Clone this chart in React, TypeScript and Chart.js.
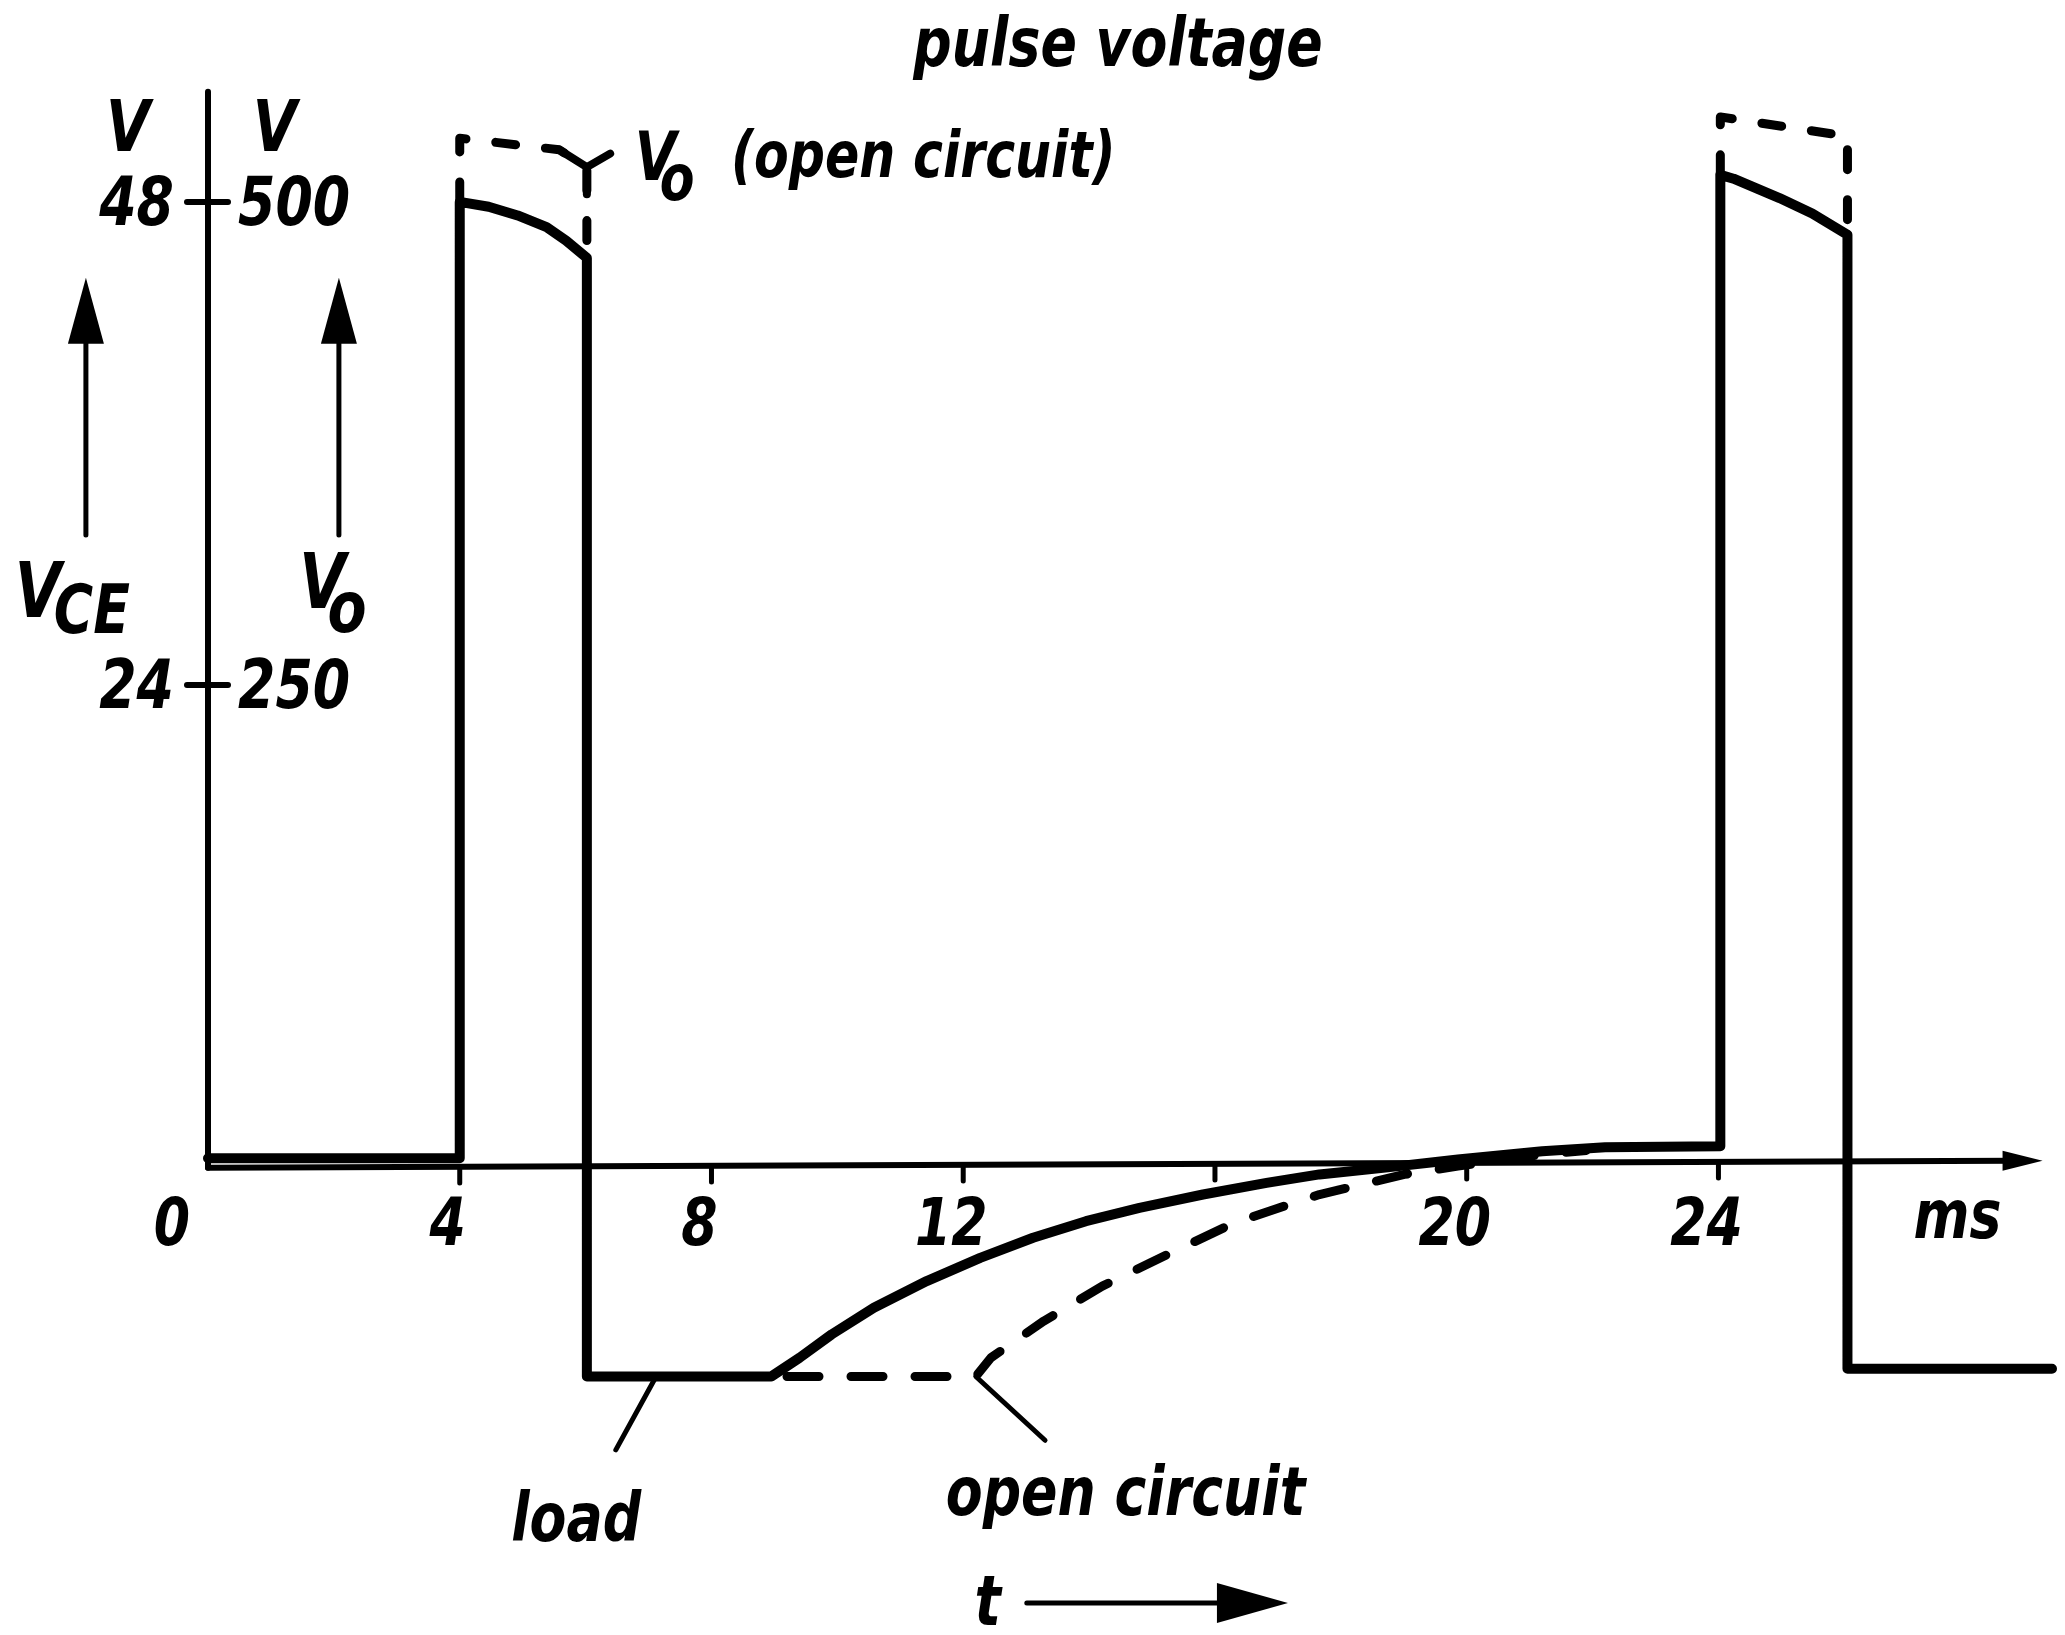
import React, { useEffect, useRef } from "react";
import { Chart, registerables } from "chart.js";

Chart.register(...registerables);

// ---------------- data ----------------
// time in ms, voltage V_o in volts
const loadTime = [0, 4, 4, 4.46, 4.92, 5.38, 5.69, 6.02, 6.02, 8.95, 9.4, 9.91, 10.58, 11.42, 12.27, 13.11, 13.95, 14.8, 15.81, 16.82, 17.66, 18.67, 19.86, 21.2, 22.2, 24.03, 24.03, 24.24, 24.97, 25.49, 26.05, 26.05, 29.3];
const loadVolts = [5, 5, 500, 497.5, 493, 487, 480, 471, -108, -108, -98.3, -86.2, -72.4, -58.6, -46.6, -36.2, -27.6, -20.7, -13.8, -7.8, -3.4, 0, 4.3, 8.6, 10.7, 11.2, 514, 512, 502, 494, 483, -104, -104];

const openPulse1Time = [4, 4, 5.58, 6.02, 6.02];
const openPulse1Volts = [500, 533, 527, 518, 471];

const openTailTime = [9.2, 12.2, 12.44, 13.28, 14.21, 15.3, 16.31, 17.66, 19.01, 19.86, 21.2, 21.9];
const openTailVolts = [-108, -108, -98.3, -79.3, -61.2, -44.0, -28.4, -13.8, -3.4, 0.9, 6.9, 9];

const openPulse2Time = [24.03, 24.03, 26.05, 26.05];
const openPulse2Volts = [514, 544, 534, 483];

const xTickValues = [4, 8, 12, 16, 20, 24];
const xTickLabelValues = [0, 4, 8, 12, 20, 24];
const xTickLabels = ["0", "4", "8", "12", "20", "24"];
const xUnitLabel = "ms";

const yTickValues = [250, 500];
const yTickLabelsVce = ["24", "48"];
const yTickLabelsVo = ["250", "500"];

const X_MIN = 0;
const X_MAX = 29.3;
const Y_MIN = -130;
const Y_MAX = 560;

// ---------------- style / layout ----------------
const INK = "#000000";
const FONT = '"DejaVu Sans"';
const H_SCALE = 0.79;
const X_ARROW_TIP = 29.15;
const Y_AXIS_TOP = 557;
const AXIS_TILT = 7;

const pts = (t: number[], v: number[]) => t.map((x, i) => ({ x, y: v[i] }));

function drawText(
  ctx: CanvasRenderingContext2D,
  text: string,
  x: number,
  y: number,
  size: number,
  align: CanvasTextAlign = "left",
  hs: number = H_SCALE
) {
  ctx.save();
  ctx.font = `italic bold ${size}px ${FONT}`;
  ctx.textAlign = align;
  ctx.textBaseline = "alphabetic";
  ctx.fillStyle = INK;
  ctx.translate(x, y);
  ctx.scale(hs, 1);
  ctx.fillText(text, 0, 0);
  ctx.restore();
}

function seg(ctx: CanvasRenderingContext2D, x1: number, y1: number, x2: number, y2: number) {
  ctx.beginPath();
  ctx.moveTo(x1, y1);
  ctx.lineTo(x2, y2);
  ctx.stroke();
}

function arrowHead(
  ctx: CanvasRenderingContext2D,
  tipX: number,
  tipY: number,
  dirX: number,
  dirY: number,
  len: number,
  half: number
) {
  const bx = tipX - dirX * len;
  const by = tipY - dirY * len;
  const nx = -dirY;
  const ny = dirX;
  ctx.beginPath();
  ctx.moveTo(tipX, tipY);
  ctx.lineTo(bx + nx * half, by + ny * half);
  ctx.lineTo(bx - nx * half, by - ny * half);
  ctx.closePath();
  ctx.fill();
}

const sketchPlugin = {
  id: "sketchAxes",
  beforeDatasetsDraw(chart: any) {
    const { ctx } = chart;
    const xs = chart.scales.x;
    const ys = chart.scales.y;
    const X = (v: number) => xs.getPixelForValue(v);
    const Y = (v: number) => ys.getPixelForValue(v);
    const axisY = (t: number) => Y(0) - AXIS_TILT * (t / X_ARROW_TIP);

    ctx.save();
    ctx.strokeStyle = INK;
    ctx.fillStyle = INK;
    ctx.lineCap = "round";

    // vertical axis
    ctx.lineWidth = 6;
    seg(ctx, X(0), Y(Y_AXIS_TOP), X(0), Y(0));
    // y ticks crossing the axis
    yTickValues.forEach((v) => seg(ctx, X(0) - 21, Y(v), X(0) + 20, Y(v)));

    // horizontal time axis with arrow
    ctx.lineWidth = 6;
    seg(ctx, X(0), axisY(0), X(X_ARROW_TIP) - 30, axisY(X_ARROW_TIP));
    arrowHead(ctx, X(X_ARROW_TIP), axisY(X_ARROW_TIP), 1, 0, 40, 10);
    // x ticks below the axis
    ctx.lineWidth = 5;
    xTickValues.forEach((v) => seg(ctx, X(v), axisY(v), X(v), axisY(v) + 16));
    ctx.restore();
  },
  afterDatasetsDraw(chart: any) {
    const { ctx } = chart;
    const xs = chart.scales.x;
    const ys = chart.scales.y;
    const X = (v: number) => xs.getPixelForValue(v);
    const Y = (v: number) => ys.getPixelForValue(v);

    ctx.save();
    ctx.strokeStyle = INK;
    ctx.fillStyle = INK;
    ctx.lineCap = "round";
    ctx.lineJoin = "round";

    // x tick labels
    xTickLabelValues.forEach((v, i) => {
      const cx = v === 0 ? X(v) - 36 : X(v) - 12;
      drawText(ctx, xTickLabels[i], cx, Y(0) + 77, 66, "center");
    });
    drawText(ctx, xUnitLabel, X(27.8), Y(0) + 70, 68, "center");

    // y tick labels (two scales share one axis)
    yTickValues.forEach((v, i) => {
      drawText(ctx, yTickLabelsVce[i], X(0) - 34, Y(v) + 23, 68, "right");
      drawText(ctx, yTickLabelsVo[i], X(0) + 30, Y(v) + 23, 68, "left");
    });

    // unit letters above the axis
    drawText(ctx, "V", X(-1.27), Y(526.4), 72, "center");
    drawText(ctx, "V", X(1.06), Y(526.4), 72, "center");

    // quantity arrows
    ctx.lineWidth = 5;
    [-1.94, 2.08].forEach((t) => {
      seg(ctx, X(t), Y(327.6), X(t), Y(440));
      arrowHead(ctx, X(t), Y(460.7), 0, -1, 66, 18);
    });

    // quantity labels
    drawText(ctx, "V", X(-3.07), Y(285.2), 76, "left");
    drawText(ctx, "CE", X(-2.45), Y(277), 68, "left");
    drawText(ctx, "V", X(1.45), Y(290), 76, "left");
    drawText(ctx, "o", X(1.9), Y(277.5), 72, "left");

    // title
    drawText(ctx, "pulse voltage", X(14.46), Y(570.4), 68, "center");

    // V_o (open circuit) label with Y-shaped pointer
    ctx.lineWidth = 8;
    seg(ctx, X(5.58), Y(527), X(6.02), Y(518));
    seg(ctx, X(6.02), Y(518), X(6.39), Y(525));
    seg(ctx, X(6.02), Y(518), X(6.02), Y(504));
    drawText(ctx, "V", X(6.78), Y(511.4), 68, "left");
    drawText(ctx, "o", X(7.18), Y(501), 64, "left");
    drawText(ctx, "(open circuit)", X(8.31), Y(513), 64, "left");

    // leaders to "load" and "open circuit"
    ctx.lineWidth = 5;
    seg(ctx, X(7.12), Y(-108), X(6.48), Y(-146));
    seg(ctx, X(12.2), Y(-108), X(13.3), Y(-141));
    drawText(ctx, "load", X(5.85), Y(-193), 68, "center");
    drawText(ctx, "open circuit", X(14.58), Y(-179.6), 68, "center");

    // time arrow
    drawText(ctx, "t", X(12.39), Y(-236.5), 70, "center");
    ctx.lineWidth = 5;
    seg(ctx, X(13.01), Y(-225.2), X(16.2), Y(-225.2));
    arrowHead(ctx, X(17.16), Y(-225.2), 1, 0, 71, 20);

    ctx.restore();
  },
};

export default function App() {
  const canvasRef = useRef<HTMLCanvasElement | null>(null);

  useEffect(() => {
    const canvas = canvasRef.current;
    if (!canvas) return;

    const solid = {
      borderColor: INK,
      borderWidth: 10,
      pointRadius: 0,
      tension: 0,
      fill: false,
      clip: false as any,
      borderCapStyle: "round" as const,
      borderJoinStyle: "round" as const,
    };
    const dashedShort = { ...solid, borderWidth: 9, borderDash: [20, 30] };
    const dashedLong = { ...solid, borderWidth: 9, borderDash: [32, 32] };

    const chart = new Chart(canvas, {
      type: "line",
      data: {
        datasets: [
          { label: "load", data: pts(loadTime, loadVolts), ...solid },
          { label: "open circuit pulse 1", data: pts(openPulse1Time, openPulse1Volts), ...dashedShort },
          { label: "open circuit", data: pts(openTailTime, openTailVolts), ...dashedLong },
          { label: "open circuit pulse 2", data: pts(openPulse2Time, openPulse2Volts), ...dashedShort },
        ] as any,
      },
      options: {
        responsive: false,
        maintainAspectRatio: false,
        animation: false,
        events: [],
        layout: { padding: { left: 208, right: 13, top: 86, bottom: 216 } },
        plugins: {
          legend: { display: false },
          tooltip: { enabled: false },
          title: { display: false },
        },
        scales: {
          x: { type: "linear", min: X_MIN, max: X_MAX, display: false },
          y: { type: "linear", min: Y_MIN, max: Y_MAX, display: false },
        },
      },
      plugins: [sketchPlugin],
    });

    return () => chart.destroy();
  }, []);

  return (
    <div style={{ position: "absolute", left: 0, top: 0, width: 2065, height: 1635, background: "#ffffff" }}>
      <canvas ref={canvasRef} width={2065} height={1635} style={{ display: "block" }} />
    </div>
  );
}
